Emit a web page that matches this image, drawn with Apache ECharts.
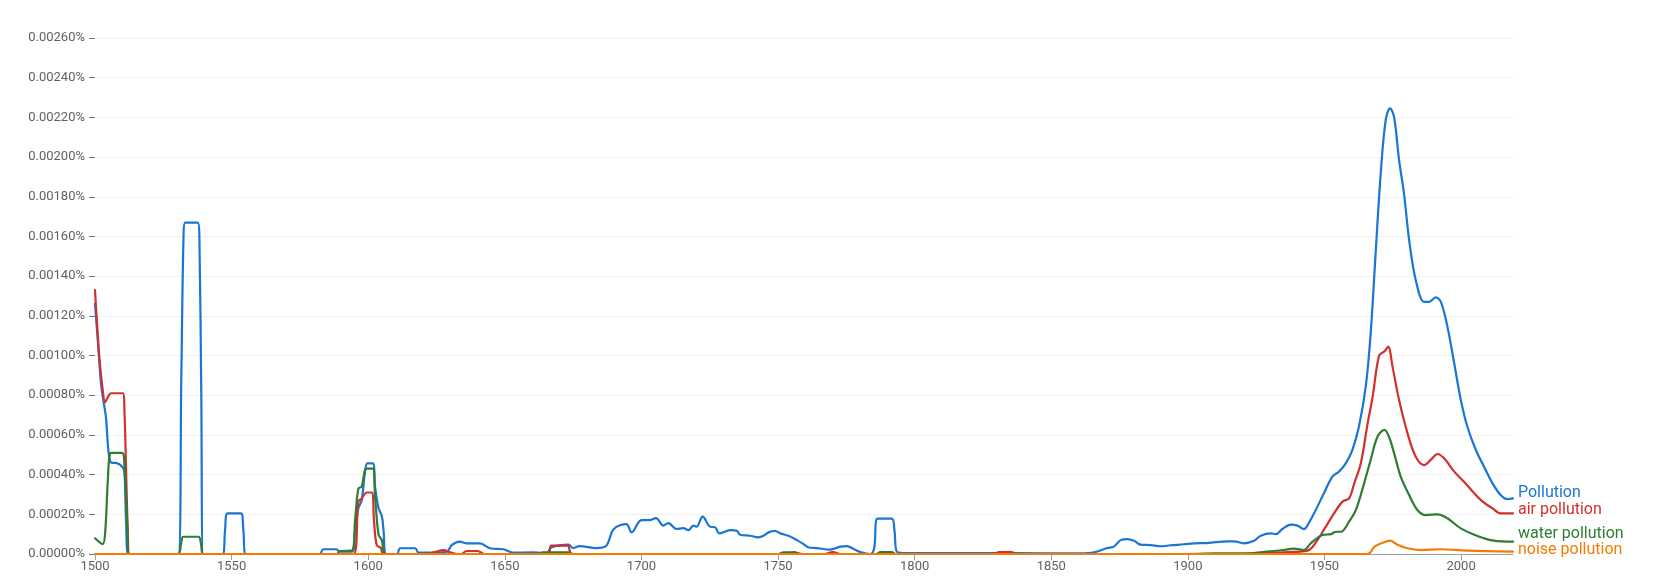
<!DOCTYPE html>
<html>
<head>
<meta charset="utf-8">
<script src="https://cdn.jsdelivr.net/npm/echarts@6/dist/echarts.min.js"></script>
<style>
html,body{margin:0;padding:0;background:#fff;}
#chart{width:1658px;height:582px;}
</style>
</head>
<body>
<div id="chart"></div>
<script>
// ---- Data (values in percent) ----
const seriesNames = ['Pollution', 'air pollution', 'water pollution', 'noise pollution'];
const xTicks = [1500, 1550, 1600, 1650, 1700, 1750, 1800, 1850, 1900, 1950, 2000];

const pollutionYears = [1500,1501,1502.2,1503.1,1504,1505,1506,1508,1510.2,1510.8,1511.4,1512.2,
  1530.5,1531.6,1532.4,1533,1537.6,1538.2,1538.9,1539.6,
  1546.7,1547.6,1548.5,1553.4,1554.3,1555.2,
  1582.3,1583.5,1588.4,1589.4,1594,1595.2,1596.4,1597.6,1598.8,1599.7,1601.7,1602.5,1603.8,1605,1605.6,1606.6,
  1610.5,1611.7,1617.2,1618.4,1623.9,1628.8,1630.6,1633.6,1636,1640.9,1644.6,1649.5,1653.1,1660.5,1665.4,
  1667,1673.3,1675,1677.4,1683.5,1687,1689.9,1694.5,1696.4,1700,1703,1705.3,1708,1709.8,1712.9,1715.3,1717.2,
  1719,1720.2,1722.4,1725.1,1727,1728.5,1732.4,1734.9,1736.1,1739.8,1742.8,1744.7,1746.5,1748.9,1750.8,1753.8,
  1756.9,1759.3,1761.2,1764.2,1769.1,1772.8,1775.2,1777.7,1780.1,1783.8,1785.2,1786.4,1791.6,1792.6,1793.6,
  1797,1830,1832,1835,1837,1860.7,1865.6,1870.5,1872.9,1875.4,1877.8,1880.3,1882.7,1886.4,1890,1893.7,1898.6,
  1902.2,1907.1,1914.5,1916.9,1920.5,1924.2,1926.7,1930.3,1932.2,1934.6,1937.7,1940.1,1942.5,1944,1946.2,
  1949.8,1952.9,1955.3,1957.8,1960.2,1962.6,1965.1,1966.9,1968.7,1970.6,1972.4,1974,1975.5,1977.3,1979.1,
  1981,1983.4,1986.5,1988.3,1990.7,1992.6,1995,1997.5,1999.9,2002.3,2005.4,2008.4,2011.5,2014.5,2016.9,2019];
const pollutionValues = [0.00126,0.00108,0.00086,0.00077,0.00069,0.00051,0.00046,0.000458,0.000435,0.00041,0.000155,0,
  0,0.0009,0.0016,0.00167,0.00167,0.0016,0.0008,0,
  0,0.00012,0.000205,0.000205,0.00012,0,
  0,0.000024,0.000024,0.000012,0.000012,0.00012,0.00023,0.00027,0.00041,0.000457,0.000457,0.00034,0.00023,0.00019,0.00012,0,
  0,0.000029,0.000029,0.000007,0.000007,0.000012,0.000045,0.000062,0.000054,0.000054,0.000029,0.000024,0.000007,0.000008,0.000005,
  0.000033,0.000047,0.00003,0.00004,0.00003,0.00004,0.000126,0.000151,0.000109,0.000171,0.000171,0.000181,0.000143,0.000156,0.000126,0.00013,0.00012,
  0.000143,0.000138,0.000188,0.000138,0.000134,0.000104,0.00012,0.000117,0.000097,0.000092,0.000084,0.000092,0.000109,0.000117,0.000104,0.000092,
  0.00007,0.00005,0.000033,0.00003,0.000022,0.000037,0.00004,0.000025,0.00001,0,0.00003,0.000178,0.000178,0.00012,0.00001,
  0.000005,0.000005,0.00001,0.00001,0.000004,0.000003,0.000008,0.00003,0.000037,0.00007,0.000075,0.000067,0.000047,0.000045,0.000039,0.000044,0.000049,
  0.000054,0.000055,0.000064,0.000064,0.000054,0.000067,0.000092,0.000104,0.0001,0.000126,0.000148,0.000143,0.000125,0.00015,0.000205,
  0.000306,0.00039,0.000415,0.000457,0.000524,0.000641,0.000843,0.00111,0.00151,0.00192,0.002186,0.002245,0.0022,0.001985,0.001817,
  0.00158,0.00138,0.00127,0.00127,0.001293,0.00127,0.001145,0.00096,0.000776,0.000641,0.000524,0.00044,0.000356,0.000297,0.000276,0.00028];

const airYears = [1500,1501.6,1502.8,1503.7,1504.7,1505.9,1510.2,1510.8,1511.4,1512,1512.6,
  1594.6,1596.4,1597.6,1599.5,1601.3,1602.1,1603.1,1604.6,1605.6,
  1622,1624,1627.5,1630,1632.5,1634,1636,1640,1642.5,
  1665.8,1667,1673,1674.5,
  1752,1755.8,1759,1767,1770,1773,1786,1787.5,1791.5,1793,1829,1831,1835,1837,
  1925,1929,1937,1941.2,1944.4,1947.4,1950.5,1953.5,1956.6,1959,1960.9,1963.3,1965.8,1967.6,1970,1971.9,1973.3,
  1974.9,1977.3,1980.4,1983.4,1986.5,1988.9,1991.4,1993.8,1997.5,2001.1,2004.8,2007.9,2011.5,2014.5,2019];
const airValues = [0.00133,0.00099,0.00083,0.000765,0.00079,0.00081,0.00081,0.00071,0.00041,0.00012,0,
  0,0.000264,0.00028,0.00031,0.00031,0.00017,0.000045,0.00003,0,
  0,0.000008,0.00002,0.000008,0,0,0.000015,0.000015,0,
  0,0.000042,0.000042,0,
  0,0.000008,0,0,0.00001,0,0,0.000008,0.000008,0,0,0.00001,0.00001,0,
  0,0.000005,0.00001,0.000012,0.00002,0.00007,0.000138,0.000205,0.000264,0.00028,0.000356,0.000457,0.000658,0.00079,0.001,0.00102,0.001045,
  0.000944,0.000776,0.000608,0.00049,0.000448,0.000474,0.000504,0.000482,0.000415,0.000364,0.000306,0.000264,0.00023,0.000205,0.000205];

const waterYears = [1500,1502.8,1503.7,1504.7,1505.5,1506.5,1509.9,1510.9,1511.8,1512.6,
  1530.3,1531.5,1532.3,1537.9,1538.8,1539.6,
  1588.4,1589.7,1594,1595.2,1596.4,1597.6,1598.8,1599.5,1601.7,1602.5,1603.8,1605,1606.2,
  1662,1664,1673,1675,
  1750,1752,1756,1758,1786,1787.5,1791.5,1793,
  1900,1910,1924.2,1929,1935,1938.7,1942.5,1945,1949.3,1952.3,1954.2,1956,1959,1961.5,1964.5,1966.9,1969.4,1971.9,
  1973.6,1975.5,1977.9,1981,1984,1987.1,1991.4,1995,1999.9,2006,2012,2019];
const waterValues = [0.000079,0.00005,0.000104,0.000373,0.000507,0.00051,0.00051,0.000407,0.000155,0,
  0,0.00005,0.000087,0.000087,0.00005,0,
  0,0.000015,0.000017,0.000171,0.00033,0.00034,0.000423,0.00043,0.00043,0.00029,0.000096,0.00007,0,
  0,0.000008,0.000008,0,
  0,0.000008,0.000008,0,0,0.00001,0.00001,0,
  0,0.000003,0.000005,0.000012,0.00002,0.000027,0.00002,0.000054,0.000096,0.0001,0.000112,0.000112,0.000163,0.000222,0.000356,0.000474,0.000591,0.000625,
  0.000591,0.000507,0.00039,0.000297,0.000222,0.000196,0.0002,0.00018,0.000129,0.000091,0.000067,0.000062];

const noiseYears = [1500,1965.8,1968.3,1971.3,1974,1976.7,1980.4,1985.3,1992.6,2002.3,2019];
const noiseValues = [0,0,0.000037,0.000057,0.000067,0.000047,0.000029,0.00002,0.000024,0.000017,0.000012];

// ---- Chart ----
const colors = ['#1976D2', '#D32F2F', '#2E7D32', '#F57C00'];
const labelOffsets = [[0, -5], [0, -3], [0, -8], [0, -2]];
const yearLists = [pollutionYears, airYears, waterYears, noiseYears];
const valueLists = [pollutionValues, airValues, waterValues, noiseValues];

function pairs(xs, ys) { return xs.map((x, i) => [x, ys[i]]); }

const chart = echarts.init(document.getElementById('chart'), null, {renderer: 'canvas'});
chart.setOption({
  animation: false,
  backgroundColor: '#ffffff',
  textStyle: {fontFamily: 'Roboto'},
  grid: {left: 95, right: 145, top: 38, bottom: 28, containLabel: false},
  xAxis: {
    type: 'value', min: 1500, max: 2019,
    axisLine: {show: true, lineStyle: {color: '#9e9e9e', width: 1}},
    axisTick: {show: true, length: 6, lineStyle: {color: '#9e9e9e'}, customValues: xTicks},
    axisLabel: {customValues: xTicks, color: '#616161', fontSize: 13, margin: 6, fontFamily: 'Roboto',
      formatter: v => String(v)},
    splitLine: {show: false}
  },
  yAxis: {
    type: 'value', min: 0, max: 0.0026, interval: 0.0002,
    axisLine: {show: false},
    axisTick: {show: true, length: 6, lineStyle: {color: '#757575'}},
    axisLabel: {color: '#616161', fontSize: 13, margin: 10, fontFamily: 'Roboto',
      formatter: v => v.toFixed(5) + '%'},
    splitLine: {show: true, lineStyle: {color: '#f1f1f1', width: 1}}
  },
  series: seriesNames.map((name, i) => ({
    name: name,
    type: 'line',
    data: pairs(yearLists[i], valueLists[i]),
    showSymbol: false,
    symbol: 'none',
    smooth: 0.35,
    lineStyle: {color: colors[i], width: 2.2, cap: 'round', join: 'round'},
    itemStyle: {color: colors[i]},
    z: 2 + i,
    endLabel: {
      show: true, formatter: '{a}', color: colors[i], fontSize: 16,
      fontFamily: 'Roboto', distance: 5, offset: labelOffsets[i]
    }
  }))
});
</script>
</body>
</html>
